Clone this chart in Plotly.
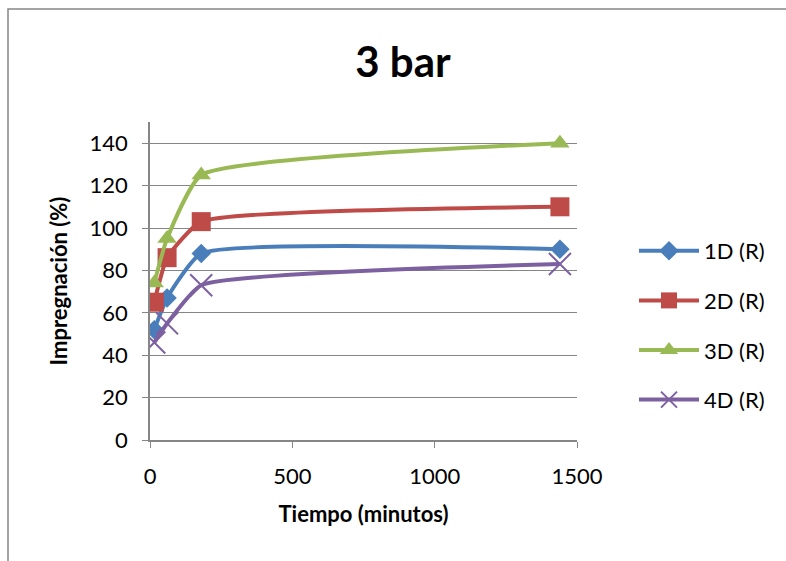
import plotly.graph_objects as go

tiempo = [15, 60, 180, 1440]
series_names = ["1D (R)", "2D (R)", "3D (R)", "4D (R)"]
v1 = [52, 67, 88, 90]
v2 = [65, 86, 103, 110]
v3 = [74, 95, 125, 140]
v4 = [46, 55, 73, 83]
values = [v1, v2, v3, v4]
colors = ["#4A7EBB", "#BE4B48", "#98B954", "#7D60A0"]
symbols = ["diamond", "square", "triangle-up", "x-thin-open"]
sizes = [15, 19, 17, 22]

FONT = "Lato, 'Open Sans', sans-serif"

fig = go.Figure()
for i, (name, vals) in enumerate(zip(series_names, values)):
    marker = dict(symbol=symbols[i], size=sizes[i], color=colors[i])
    if symbols[i] == "x-thin-open":
        marker["line"] = dict(color=colors[i], width=2)
    else:
        marker["line"] = dict(width=0)
    fig.add_trace(go.Scatter(
        x=tiempo, y=vals, name=name, mode="lines+markers",
        line=dict(color=colors[i], width=4, shape="spline", smoothing=0.45),
        marker=marker, legendgroup=name,
    ))

# outer chart border (left/top visible)
fig.add_shape(type="rect", xref="paper", yref="paper",
              x0=(8 - 150) / 427, x1=(800 - 150) / 427,
              y0=(440 - 575) / 318, y1=(440 - 9) / 318,
              line=dict(color="#868686", width=1.5), layer="below")

fig.update_layout(
    width=786, height=561,
    margin=dict(l=150, r=209, t=122, b=121),
    paper_bgcolor="white", plot_bgcolor="white",
    font=dict(family=FONT, size=22, color="black"),
    title=dict(text="<b>3 bar</b>", x=403 / 786, xanchor="center",
               y=1 - 62 / 561, yanchor="middle",
               font=dict(size=42, family=FONT, color="black")),
    xaxis=dict(range=[0, 1500], tickvals=[0, 500, 1000, 1500],
               showgrid=False, zeroline=False, showline=True,
               linecolor="#868686", linewidth=1.5,
               ticks="outside", ticklen=6, tickcolor="#868686",
               ticklabelstandoff=10,
               tickfont=dict(size=22),
               title=dict(text="<b>Tiempo (minutos)</b>", font=dict(size=22), standoff=18)),
    yaxis=dict(range=[0, 150], tickvals=[0, 20, 40, 60, 80, 100, 120, 140],
               showgrid=True, gridcolor="#868686", gridwidth=1.2,
               zeroline=False, showline=True,
               linecolor="#868686", linewidth=1.5,
               ticks="outside", ticklen=6, tickcolor="#868686",
               ticklabelstandoff=10,
               tickfont=dict(size=22),
               title=dict(text="<b>Impregnación (%)</b>", font=dict(size=22), standoff=16)),
    legend=dict(x=(634 - 150) / 427, y=(440 - 230) / 318, xanchor="left", yanchor="top",
                font=dict(size=22), tracegroupgap=18, itemwidth=60,
                bgcolor="rgba(0,0,0,0)"),
    showlegend=True,
)

fig.write_html("out.html")
